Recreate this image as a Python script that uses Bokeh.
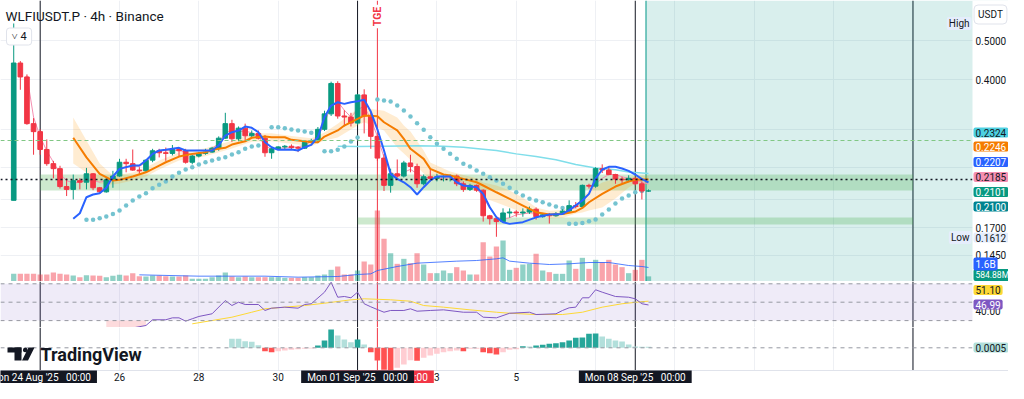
import pandas as pd
from math import pi
from bokeh.plotting import figure
from bokeh.layouts import column
from bokeh.models import (Range1d, LinearScale, FixedTicker, Span, BoxAnnotation, Label,
                          PolyAnnotation, ColumnDataSource)
from bokeh.embed import file_html
from bokeh.resources import INLINE

# ---------------------------------------------------------------- data
FIRST_BAR = "2025-08-23 08:00"
BAR_HOURS = 4

opens = [.199, .440, .406, .310, .296, .267, .246, .239, .2155, .212,
         .223, .221, .232, .214, .209, .224, .229, .248, .246, .237,
         .236, .251, .265, .262, .261, .267, .265, .248, .257, .261,
         .263, .269, .285, .310, .284, .302, .289, .293, .285, .262,
         .268, .271, .272, .270, .269, .278, .281, .300, .328, .391,
         .324, .322, .311, .366, .324, .288, .254, .217, .232, .229,
         .247, .242, .219, .228, .226, .228, .2285, .229, .219, .212,
         .217, .211, .182, .179, .176, .185, .186, .185, .186, .189,
         .181, .183, .182, .184, .187, .193, .192, .217, .216, .239,
         .237, .231, .225, .224, .226, .219, .2100]
highs = [.553, .445, .412, .320, .300, .283, .250, .243, .226, .231,
         .226, .240, .233, .215, .226, .236, .253, .253, .267, .241,
         .252, .268, .268, .270, .274, .270, .268, .259, .263, .268,
         .271, .288, .330, .317, .305, .310, .298, .298, .290, .270,
         .272, .274, .275, .272, .280, .284, .304, .334, .395, .396,
         .335, .330, .368, .378, .330, .290, .260, .239, .252, .250,
         .259, .246, .231, .239, .232, .230, .231, .231, .222, .219,
         .218, .212, .183, .181, .190, .190, .188, .190, .192, .191,
         .185, .185, .186, .189, .199, .197, .218, .219, .241, .245,
         .242, .232, .228, .230, .227, .222, .212]
lows = [.199, .377, .308, .259, .259, .243, .226, .213, .204, .200,
        .212, .212, .211, .207, .208, .214, .228, .234, .236, .232,
        .234, .248, .255, .250, .258, .256, .246, .245, .255, .259,
        .262, .265, .284, .279, .280, .281, .285, .283, .256, .253,
        .266, .267, .267, .263, .268, .277, .277, .297, .324, .319,
        .305, .305, .308, .293, .268, .250, .210, .208, .227, .227,
        .234, .214, .217, .222, .222, .222, .222, .216, .209, .210,
        .209, .176, .173, .1612, .175, .180, .181, .181, .184, .178,
        .180, .174, .181, .183, .185, .190, .190, .213, .214, .233,
        .230, .219, .220, .221, .217, .200, .209]
closes = [.440, .406, .310, .296, .267, .246, .239, .2155, .212, .223,
          .221, .232, .214, .209, .224, .229, .248, .246, .237, .236,
          .251, .265, .262, .261, .267, .265, .248, .257, .261, .263,
          .269, .285, .310, .284, .302, .289, .293, .285, .262, .268,
          .271, .272, .270, .269, .278, .281, .300, .328, .391, .324,
          .322, .311, .366, .324, .288, .254, .217, .232, .229, .247,
          .242, .219, .228, .226, .228, .2285, .229, .219, .212, .217,
          .211, .182, .179, .176, .185, .186, .185, .186, .189, .181,
          .183, .182, .184, .187, .193, .192, .217, .216, .239, .237,
          .231, .225, .224, .226, .219, .210, .2101]
volume_m = [874, 874, 874, 874, 798, 798, 1026, 874, 798, 684,
            494, 722, 684, 646, 494, 646, 760, 684, 950, 608,
            570, 684, 684, 608, 570, 570, 684, 304, 304, 304,
            494, 684, 1026, 570, 494, 570, 494, 494, 494, 494,
            494, 418, 418, 418, 494, 494, 684, 798, 1330, 1710,
            798, 798, 1254, 2280, 1938, 8094, 4864, 3230, 2014, 2584,
            2090, 3230, 1938, 950, 950, 1254, 950, 1634, 1254, 798,
            798, 4484, 2850, 3990, 4674, 1330, 1558, 1938, 2014, 3154,
            1254, 1064, 874, 874, 2394, 1444, 2698, 1444, 2470, 2204,
            2470, 1938, 1634, 950, 1330, 2470, 584.88]

vol_ma_idx = [19, 28, 38, 43, 49, 52, 54, 55, 58, 61, 64, 67, 70, 73, 74, 75, 78, 81, 84, 87, 90, 93, 95, 96]
vol_ma_val = [760, 608, 608, 494, 570, 798, 874, 1254, 1710, 2090, 2204, 2318, 2394, 2584, 2698,
              2318, 2090, 1938, 2014, 2166, 2166, 1824, 1710, 1600]

blue_idx = [9, 10, 11, 12, 13, 14, 15, 16, 18, 19, 20, 21, 22, 23, 25, 26, 28, 30, 31, 32,
            33, 34, 35, 36, 37, 38, 39, 40, 42, 43, 44, 45, 46, 47, 48, 49, 50, 51, 52, 53,
            54, 55, 56, 57, 58, 59, 60, 61, 62, 63, 64, 66, 67, 68, 70, 71, 72, 73, 74, 75,
            77, 79, 81, 83, 84, 86, 87, 88, 89, 90, 91, 92, 93, 94, 95, 96]
blue_val = [.1788, .1847, .2026, .2058, .2073, .2140, .2284, .2387, .2433, .2433,
            .2505, .2603, .2654, .2664, .2695, .2654, .2654, .2654, .2731, .2894,
            .2950, .2979, .3048, .3026, .2950, .2784, .2705, .2664, .2668, .2654,
            .2705, .2742, .2866, .3217, .3442, .3508, .3475, .3508, .3528, .3557,
            .3324, .3000, .2654, .2319, .2253, .2209, .2147, .2058, .2147, .2232,
            .2284, .2284, .2209, .2168, .2147, .2066, .1912, .1804, .1754, .1737,
            .1754, .1804, .1833, .1840, .1880, .1988, .2066, .2258, .2378, .2415,
            .2415, .2392, .2360, .2310, .2250, .2207]

orange_idx = [9, 11, 13, 15, 16, 18, 20, 22, 23, 25, 27, 29, 30, 32, 33, 35, 36, 38, 39, 41,
              42, 44, 45, 46, 47, 49, 50, 52, 53, 55, 56, 58, 59, 60, 62, 63, 65, 66, 68, 70,
              71, 73, 75, 77, 79, 81, 83, 85, 86, 87, 89, 91, 93, 94, 95, 96]
orange_val = [.2857, .255, .232, .2231, .2240, .2283, .234, .2433, .248, .2563,
              .2603, .2627, .2664, .2695, .2747, .280, .2857, .2877, .2865, .2865,
              .2823, .280, .2784, .2784, .2877, .298, .3066, .3187, .3248, .3235,
              .3125, .298, .2839, .268, .2529, .2387, .231, .2297, .2253, .2209,
              .2168, .2085, .2007, .1931, .1858, .1833, .184, .1866, .1905, .1968,
              .2066, .2155, .2219, .224, .2246, .2246]

band_idx = [9, 11, 13, 15, 16, 18, 20, 22, 25, 29, 33, 36, 39, 42, 45, 47, 49, 52, 53, 56,
            58, 59, 60, 62, 63, 65, 66, 68, 70, 71, 73, 75, 77, 79, 81, 83, 85, 86, 87, 89,
            91, 93, 94, 96]
band_hi = [.3211, .2812, .2462, .2297, .2310, .2337, .2405, .2505, .2622, .2688,
           .2810, .2923, .2931, .2888, .2848, .2943, .310, .338, .3395, .334,
           .3211, .3066, .2962, .2654, .2476, .2392, .235, .2305, .226, .2206,
           .2168, .2106, .2021, .1909, .1875, .1883, .1931, .2021, .2106, .2206,
           .2258, .2270, .2293, .2293]
band_lo = [.2462, .2337, .2193, .2181, .2193, .2232, .2284, .2378, .2505, .2568,
           .2685, .2793, .2800, .2759, .2721, .2812, .286, .3066, .3125, .298,
           .270, .2608, .2515, .2324, .2258, .2232, .2245, .2202, .216, .2021,
           .1964, .1909, .1855, .1823, .1792, .1798, .1844, .1855, .1876, .1909,
           .2010, .2143, .219, .220]

pink_idx = [2, 3, 4, 5, 6, 7, 8, 9, 10, 11, 12, 13, 14, 15, 16, 18, 19, 20, 21, 22, 23,
            25, 27, 29, 31, 32, 33, 34, 35, 36, 37, 38, 39, 40, 42, 44,
            46, 47, 48, 49, 50, 51, 52, 53, 54, 55, 56, 57, 58, 59, 60, 61, 62, 63, 64, 65,
            66, 67, 68, 69, 70, 71, 72, 73, 74, 75, 76, 77, 78, 79, 80, 81, 82, 83, 84, 85,
            86, 87, 88, 89, 90, 91, 92, 93, 94, 95, 96]
pink_val = [.409, .322, .287, .265, .248, .232, .223, .220, .221, .224, .223, .221, .223, .228, .240,
            .243, .242, .248, .260, .265, .265,
            .266, .259, .262, .276, .296, .297, .296, .297, .294, .289, .272, .268, .269, .270, .273,
            .287, .310, .345, .352, .335, .322, .336, .343, .318, .288, .255, .235, .228, .234,
            .238, .232, .228, .226, .226, .226, .227, .225, .219, .215, .213, .203, .190, .181,
            .178, .180, .183, .184, .185, .185, .184, .183, .183, .184, .188, .191, .199, .207,
            .219, .226, .231, .231, .228, .226, .224, .221, .2185]

cyan_idx = [49, 52, 56, 61, 65, 68, 71, 73, 76, 79, 82, 85, 88, 91, 93, 96]
cyan_val = [.2720, .2716, .2720, .2727, .2720, .2705, .2674, .2654, .2603, .2563,
            .2515, .2447, .2400, .2374, .2345, .2324]

sar_idx = (list(range(11, 38)) + list(range(39, 46)) + list(range(47, 53))
           + list(range(55, 84)) + list(range(84, 96)))
sar_val = [.1778, .1778, .1794, .1812, .1840, .1876, .1931, .1988, .2034, .2073,
           .2134, .2177, .2218, .2284, .2335, .2378, .2410, .2447, .2480, .2505,
           .2529, .2552, .2593, .2627, .2680, .2716, .2731,
           .3036, .3036, .3019, .2996, .2979, .2962, .2940,
           .2643, .2643, .2664, .2716, .2795, .2860,
           .3563, .3543, .3522, .3442, .3344, .3230, .3107, .2991, .2866, .2758,
           .2680, .2603, .2529, .2457, .2419, .2364, .2319, .2274, .2232, .2189,
           .2140, .2085, .2046, .2007, .1988, .1968, .1942, .1920, .1905,
           .1737, .1739, .1747, .1763, .1781, .1833, .1887, .1953, .2010, .2045, .2085, .2100]

rsi_idx = [14, 16, 18, 20, 21, 23, 24, 25, 26, 27, 28, 30, 32, 33, 34, 35, 37, 38, 39, 41,
           43, 44, 45, 47, 48, 49, 50, 51, 52, 53, 54, 55, 56, 57, 59, 60, 61, 63, 65, 68,
           70, 71, 73, 75, 78, 79, 82, 83, 84, 85, 86, 87, 88, 89, 91, 93, 94, 95, 96]
rsi_val = [21, 20, 22, 24.7, 30.9, 30.9, 33, 33, 29.4, 32, 34.5, 37.4, 51.8, 46.4, 50, 47.5,
           47.5, 41, 43.5, 44.6, 43.5, 47.5, 48.3, 60.9, 71.7, 55.4, 56.2, 54.8, 60.9, 48.3,
           45, 42, 39.1, 41, 41, 42.8, 40.2, 41, 41.7, 39.1, 39.1, 33.7, 33, 38, 39.1, 36.6,
           37.4, 41, 43.9, 44.6, 54.8, 54.8, 63.5, 60.9, 56.2, 55.4, 53.7, 48.3, 46.99]
rsi_ma_idx = [27, 30, 33, 36, 38, 41, 44, 47, 51, 53, 57, 60, 62, 65, 69, 73, 75, 79, 83, 86,
              89, 92, 95, 96]
rsi_ma_val = [26.5, 30.1, 33.7, 39.1, 42.8, 44.6, 46.4, 48.9, 52.6, 53.7, 52.6, 51.1, 46.4,
              44.6, 41.7, 39.1, 38, 36.6, 36.6, 39.1, 44.6, 48.3, 50.6, 51.1]

macd_idx = list(range(33, 97))
macd_hist = [.0045, .0045, .0033, .003, .0013,
             -.0017, -.0022, -.0017, -.0013, -.001, -.0007, -.0005, -.0003,
             .0012, .0037, .0092, .0062, .0042, .0028, .0042, .0017,
             -.0022, -.0063, -.011, -.0112, -.010, -.0083, -.0062, -.0065, -.005, -.0038,
             -.003, -.0022, -.0017, -.0013, -.0017, -.0005, -.0005, -.0022, -.0027, -.0033,
             -.0022, -.001, -.0007,
             .0008, .0007, .0012, .0015, .002, .0023, .0028, .0037, .005, .0052,
             .007, .0072, .0057, .0045, .0037, .0032, .0017, .0007, .0005, .0005]

price_ticks = [0.5, 0.4, 0.17, 0.145]
price_grid = [0.5, 0.4, 0.3, 0.24, 0.2, 0.17, 0.145]
rsi_ticks = [40]
rsi_levels = [70, 50, 30]
grid_days = ["2025-08-24", "2025-08-26", "2025-08-28", "2025-08-30", "2025-09-01", "2025-09-03",
             "2025-09-05", "2025-09-07", "2025-09-09", "2025-09-11", "2025-09-13", "2025-09-15"]
axis_days = ["2025-08-26", "2025-08-28", "2025-08-30", "2025-09-03", "2025-09-05"]
axis_day_labels = ["26", "28", "30", "3", "5"]
marker_days = ["2025-08-24 00:00", "2025-09-01 00:00", "2025-09-08 00:00", "2025-09-15 00:00"]
marker_texts = ["Mon 24 Aug '25\u00a0\u00a0\u00a000:00", "Mon 01 Sep '25\u00a0\u00a0\u00a000:00",
                "Mon 08 Sep '25\u00a0\u00a0\u00a000:00"]
tge_time = "2025-09-01 12:00"
tge_text = "Mon 01 Sep '25\u00a0\u00a0\u00a012:00"
range_start = "2025-09-08 06:30"
zone_a = ("2025-08-24 00:00", "2025-09-15 00:00", 0.2106, 0.2310)
zone_b = ("2025-09-01 00:00", "2025-09-15 00:00", 0.1731, 0.1802)
dotted_level = 0.2244
dashed_level = 0.2812

# ---------------------------------------------------------------- layout / style
FONT = "Roboto"
INK = "#131722"
UP, DOWN = "#089981", "#F23645"
GRID = "#EEF0F4"
SEP = "#E0E3EB"
W = 1008                 # whole canvas width
CHART_W = 972            # chart area; the rest is the price-scale column
PRICE_H, RSI_H, MACD_H = 281, 46, 56   # MACD figure includes the 13px time strip
PRICE_RANGE = (0.1245, 0.6315)
VOL_TOP = 32034
RSI_RANGE = (22.5, 72.5)
MACD_RANGE = (-0.01785, 0.01015)
MACD_FLOOR = -0.01135     # bottom of the MACD pane (time strip below)
TAG_X = CHART_W + 1


def ms(s):
    return pd.Timestamp(s).value / 1e6


BAR_MS = BAR_HOURS * 3600 * 1000
T0 = ms(FIRST_BAR)


def bt(idx):
    return [T0 + i * BAR_MS for i in idx]


x_start, x_chart_end = ms("2025-08-23 00:00"), ms("2025-09-16 12:00")
xr = Range1d(x_start, x_start + (x_chart_end - x_start) * W / CHART_W)


def make_fig(h, yr, **kw):
    f = figure(width=W, height=h, x_range=xr, y_range=Range1d(*yr), x_axis_type="datetime",
               output_backend="svg", toolbar_location=None, min_border_left=0,
               min_border_right=0, min_border_top=0, min_border_bottom=0,
               x_axis_location=None, y_axis_location=None, **kw)
    f.outline_line_color = None
    f.background_fill_color = "white"
    f.border_fill_color = "white"
    f.xgrid.ticker = FixedTicker(ticks=[ms(d) for d in grid_days])
    f.xgrid.grid_line_color = GRID
    f.ygrid.visible = False
    for d in marker_days:
        f.add_layout(Span(location=ms(d), dimension="height", line_color=INK, line_width=1,
                          level="underlay"))
    f.add_layout(Span(location=ms(tge_time), dimension="height", line_color=DOWN,
                      line_width=1, level="underlay"))
    return f


def cover(f, **kw):
    f.add_layout(BoxAnnotation(fill_color="white", fill_alpha=1, line_color=None, **kw))


def tag(f, text, x, y, bg, fg="white", align="left", size="10px", x_units="screen",
        y_units="screen", pad=(2, 1), border=None, style="normal", angle=0, radius=2):
    f.add_layout(Label(x=x, y=y, x_units=x_units, y_units=y_units, text=text, text_font=FONT,
                       text_font_size=size, text_color=fg, text_align=align,
                       text_baseline="middle", background_fill_color=bg, padding=pad,
                       border_radius=radius, border_line_color=border, text_font_style=style,
                       angle=angle))


# ---------------------------------------------------------------- price pane
p = make_fig(PRICE_H, PRICE_RANGE, y_axis_type="log")
p.ygrid.visible = True
p.ygrid.ticker = FixedTicker(ticks=price_grid)
p.ygrid.grid_line_color = GRID
p.extra_y_ranges = {"vol": Range1d(0, VOL_TOP)}
p.extra_y_scales = {"vol": LinearScale()}

p.add_layout(BoxAnnotation(left=ms(range_start), fill_color="#009688", fill_alpha=0.15,
                           line_color=None, level="underlay"))
p.add_layout(Span(location=ms(range_start), dimension="height", line_color="#4DB6AC",
                  line_width=1.5, level="underlay"))
for z in (zone_a, zone_b):
    p.add_layout(BoxAnnotation(left=ms(z[0]), right=ms(z[1]), bottom=z[2], top=z[3],
                               fill_color="#4CAF50", fill_alpha=0.28, line_color=None,
                               level="underlay"))

n = len(opens)
up = [c >= o for o, c in zip(opens, closes)]
src = ColumnDataSource(dict(
    t=bt(range(n)), o=opens, h=highs, l=lows, c=closes,
    top=[max(o, c) for o, c in zip(opens, closes)],
    bot=[min(o, c) for o, c in zip(opens, closes)],
    col=[UP if u else DOWN for u in up], vol=volume_m))

p.vbar(x="t", top="vol", bottom=0, width=BAR_MS * 0.8, fill_color="col", fill_alpha=0.45,
       line_color=None, source=src, y_range_name="vol")
p.line(bt(vol_ma_idx), vol_ma_val, line_color="#2962FF", line_width=1, line_alpha=0.8,
       y_range_name="vol")

p.varea(x=bt(band_idx), y1=band_lo, y2=band_hi, fill_color="#FF9800", fill_alpha=0.18)
p.add_layout(Span(location=dashed_level, dimension="width", line_color="#81C784",
                  line_dash="4 3", line_width=1))
p.line(bt(cyan_idx), cyan_val, line_color="#80DEEA", line_width=1.5)
p.scatter(bt(sar_idx), sar_val, size=4.5, color="#74C3D0", line_color=None)
p.line(bt(pink_idx), pink_val, line_color="#F48FB1", line_width=1)
p.segment(x0="t", y0="l", x1="t", y1="h", line_color="col", line_width=1, source=src)
p.vbar(x="t", top="top", bottom="bot", width=BAR_MS * 0.7, fill_color="col", line_color="col",
       source=src)
p.line(bt(orange_idx), orange_val, line_color="#F57C00", line_width=2)
p.line(bt(blue_idx), blue_val, line_color="#2962FF", line_width=2)
p.add_layout(Span(location=dotted_level, dimension="width", line_color=INK, line_dash="2 3",
                  line_width=1.5))

# price-scale column
cover(p, left=CHART_W, left_units="screen")
p.add_layout(Span(location=PRICE_RANGE[0], dimension="width", line_color=SEP, line_width=1))
for tk in price_ticks:
    tag(p, f"{tk:.4f}", TAG_X + 2, tk, None, INK, y_units="data", pad=0)

tag(p, "WLFIUSDT.P \u00b7 4h \u00b7 Binance", 5, 266, None, INK, size="13.5px", pad=0)
tag(p, "\u02c5\u00a04", 6, 245, "white", INK, size="11px", pad=(5, 2), border=SEP, radius=3)
tag(p, "TGE", ms(tge_time), 265, "white", DOWN, align="center", x_units="data",
    style="bold", angle=pi / 2, pad=(2, 2), radius=0, size="10.5px")
tag(p, "High", CHART_W - 1, 258, "#E5EDFC", INK, align="right")
tag(p, "Low", CHART_W - 1, 44, "#E5EDFC", INK, align="right")
tag(p, "USDT", (CHART_W + W) / 2, 267, "white", INK, align="center", pad=(4, 4),
    border=SEP, radius=4)

price_tags = [
    (f"{volume_m[-1]:.2f}M", 6.5, UP, "white", "8.5px"),
    (f"{vol_ma_val[-1] / 1000:.1f}B", 17.5, "#2962FF", "white", "10px"),
    (f"{cyan_val[-1]:.4f}", 149, "#4DD0E1", INK, "10px"),
    (f"{orange_val[-1]:.4f}", 135, "#F57C00", "white", "10px"),
    (f"{blue_val[-1]:.4f}", 119.5, "#2962FF", "white", "10px"),
    (f"{pink_val[-1]:.4f}", 104.5, "#F48FB1", INK, "10px"),
    (f"{closes[-1]:.4f}", 89.5, UP, "white", "10px"),
    (f"{sar_val[-1]:.4f}", 75, "#00838F", "white", "10px"),
    (f"{min(lows):.4f}", 44, "#E5EDFC", INK, "10px"),
]
for text, y, bg, fg, sz in price_tags:
    tag(p, text, TAG_X, y, bg, fg, size=sz)

# ---------------------------------------------------------------- RSI pane
r = make_fig(RSI_H, RSI_RANGE)
r.add_layout(BoxAnnotation(bottom=30, top=70, fill_color="#7E57C2", fill_alpha=0.12,
                           line_color=None, level="underlay"))
for lv in rsi_levels:
    r.add_layout(Span(location=lv, dimension="width", line_color="#9598A1", line_dash="4 4",
                      line_width=1))
low_pts = [(i, v) for i, v in zip(rsi_idx, rsi_val) if v < 30 and i <= 20]
r.varea(x=bt([a for a, _ in low_pts]), y1=30, y2=[b for _, b in low_pts],
        fill_color="#F23645", fill_alpha=0.18)
r.line(bt(rsi_ma_idx), rsi_ma_val, line_color="#FDD835", line_width=1)
r.line(bt(rsi_idx), rsi_val, line_color="#7E57C2", line_width=1)
cover(r, left=CHART_W, left_units="screen")
r.add_layout(Span(location=RSI_RANGE[0], dimension="width", line_color=SEP, line_width=1))
for tk in rsi_ticks:
    tag(r, f"{tk:.2f}", TAG_X + 2, tk, None, INK, y_units="data", pad=0)
tag(r, f"{rsi_ma_val[-1]:.2f}", TAG_X, 37.5, "#FDD835", INK)
tag(r, f"{rsi_val[-1]:.2f}", TAG_X, 23, "#7E57C2", "white")

# ---------------------------------------------------------------- MACD pane + time strip
m = make_fig(MACD_H, MACD_RANGE)
m.add_layout(Span(location=0, dimension="width", line_color="#9598A1", line_dash="4 4",
                  line_width=1))
hist_col = []
for k, v in enumerate(macd_hist):
    prev = macd_hist[k - 1] if k > 0 else None
    if v >= 0:
        hist_col.append("#26A69A" if prev is not None and v > prev else "#B2DFDB")
    else:
        hist_col.append("#FF5252" if prev is not None and v < prev else "#FFCDD2")
m.vbar(x=bt(macd_idx), top=macd_hist, bottom=0, width=BAR_MS * 0.85, fill_color=hist_col,
       line_color=None)
cover(m, left=CHART_W, left_units="screen")
cover(m, top=MACD_FLOOR)
m.add_layout(Span(location=MACD_FLOOR, dimension="width", line_color=SEP, line_width=1))
tag(m, f"{macd_hist[-1]:.4f}", TAG_X, 36, "#B2DFDB", INK)

# TradingView logo
scr = dict(left_units="screen", right_units="screen", top_units="screen",
           bottom_units="screen", fill_color=INK, fill_alpha=1, line_color=None)
m.add_layout(BoxAnnotation(left=7, right=21, bottom=31, top=36, **scr))
m.add_layout(BoxAnnotation(left=14, right=21, bottom=23, top=36, **scr))
m.add_layout(BoxAnnotation(left=22.5, right=27, bottom=31.3, top=35.8, border_radius=2, **scr))
m.add_layout(PolyAnnotation(xs=[28, 34, 27.5, 21.5], ys=[36, 36, 23, 23], xs_units="screen",
                            ys_units="screen", fill_color=INK, fill_alpha=1, line_color=None))
tag(m, "TradingView", 40, 29.5, None, INK, size="18px", style="bold", pad=0)

# time strip: tick labels, TGE (red) box under the black date boxes
for d, lab in zip(axis_days, axis_day_labels):
    tag(m, lab, ms(d), 6.5, None, INK, align="center", x_units="data", pad=0)
tag(m, tge_text, ms(tge_time), 6.5, DOWN, "white", align="center", x_units="data",
    pad=(6, 1), radius=0)
for d, text in zip(marker_days[:3], marker_texts):
    tag(m, text, ms(d), 6.5, INK, "white", align="center", x_units="data", pad=(6, 1),
        radius=0)

layout = column(p, r, m, spacing=0)
open("out.html", "w").write(file_html(layout, INLINE))
